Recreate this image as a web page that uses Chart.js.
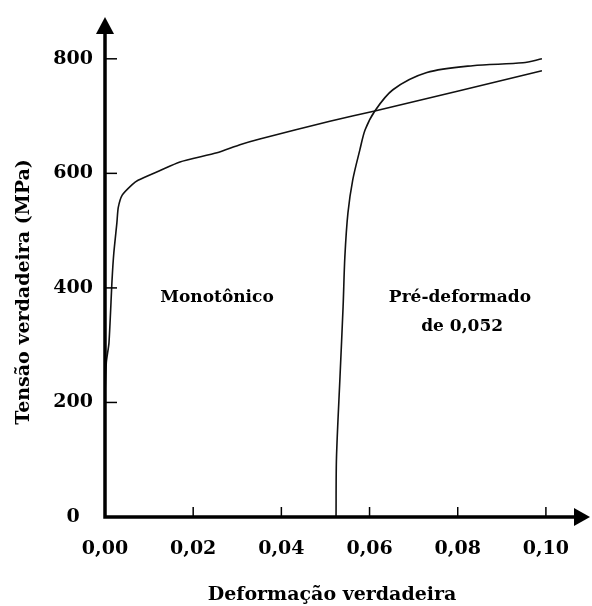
<!DOCTYPE html>
<html>
<head>
<meta charset="utf-8">
<script src="https://cdn.jsdelivr.net/npm/chart.js@4.4.1/dist/chart.umd.min.js"></script>
<style>
  html, body { margin: 0; padding: 0; background: #fff; }
  canvas { display: block; }
</style>
</head>
<body>
<canvas id="chart" width="592" height="606"></canvas>
<script>
// curve: true strain / true stress (MPa)
const monoStrain = [0.0000, 0.0003, 0.0009, 0.0016, 0.0020, 0.0027, 0.0030, 0.0039, 0.0061, 0.0075, 0.0125, 0.0170, 0.0254, 0.0306, 0.0351, 0.0510, 0.0612, 0.0991];
const monoStress = [215, 270, 304, 414, 461, 514, 540, 562, 580, 588, 605, 620, 636, 650, 660, 691, 709, 779];

const preStrain = [0.0524, 0.0525, 0.0533, 0.0540, 0.0544, 0.0551, 0.0562, 0.0578, 0.0590, 0.0612, 0.0653, 0.0730, 0.0834, 0.0948, 0.0991];
const preStress = [0, 103, 245, 367, 454, 531, 589, 641, 676, 709, 746, 776, 788, 793, 800];

const xTicks = [0, 0.02, 0.04, 0.06, 0.08, 0.10];
const yTicks = [0, 200, 400, 600, 800];

const xTitle = 'Deformação verdadeira';
const yTitle = 'Tensão verdadeira (MPa)';
const noteMono = ['Monotônico'];
const notePre = ['Pré-deformado', 'de 0,052'];

const FONT = '"DejaVu Serif", "Liberation Serif", serif';

function toPoints(xs, ys) {
  return xs.map((v, i) => ({ x: v, y: ys[i] }));
}

// axes with arrows, inward tick marks, titles and the two notes
const axesPlugin = {
  id: 'axesPlugin',
  afterDraw(chart) {
    const { ctx, chartArea: a } = chart;
    const xs = chart.scales.x, ys = chart.scales.y;
    const x0 = xs.getPixelForValue(0);
    const y0 = ys.getPixelForValue(0);
    ctx.save();
    ctx.strokeStyle = '#000';
    ctx.fillStyle = '#000';

    ctx.lineWidth = 3.5;
    ctx.beginPath();
    ctx.moveTo(x0, y0 + 1.75);
    ctx.lineTo(x0, a.top + 14);
    ctx.moveTo(x0 - 1.75, y0);
    ctx.lineTo(a.right - 12, y0);
    ctx.stroke();

    ctx.beginPath();
    ctx.moveTo(x0, a.top);
    ctx.lineTo(x0 - 9, a.top + 17);
    ctx.lineTo(x0 + 9, a.top + 17);
    ctx.closePath();
    ctx.fill();
    ctx.beginPath();
    ctx.moveTo(a.right, y0);
    ctx.lineTo(a.right - 16, y0 - 9);
    ctx.lineTo(a.right - 16, y0 + 9);
    ctx.closePath();
    ctx.fill();

    ctx.lineWidth = 1.5;
    ys.ticks.forEach(t => {
      if (!t.value) return;
      const py = ys.getPixelForValue(t.value);
      ctx.beginPath();
      ctx.moveTo(x0, py);
      ctx.lineTo(x0 + 12, py);
      ctx.stroke();
    });
    xs.ticks.forEach(t => {
      if (!t.value) return;
      const px = xs.getPixelForValue(t.value);
      ctx.beginPath();
      ctx.moveTo(px, y0);
      ctx.lineTo(px, y0 - 10);
      ctx.stroke();
    });

    ctx.textAlign = 'center';
    ctx.textBaseline = 'alphabetic';
    ctx.font = 'bold 19px ' + FONT;
    ctx.fillText(xTitle, 332, 600);

    ctx.save();
    ctx.translate(29, 292);
    ctx.rotate(-Math.PI / 2);
    ctx.fillText(yTitle, 0, 0);
    ctx.restore();

    ctx.font = 'bold 17px ' + FONT;
    ctx.textBaseline = 'middle';
    ctx.fillText(noteMono[0], xs.getPixelForValue(0.0254), ys.getPixelForValue(383));
    ctx.fillText(notePre[0], xs.getPixelForValue(0.0805), ys.getPixelForValue(383));
    ctx.fillText(notePre[1], xs.getPixelForValue(0.0810), ys.getPixelForValue(332));
    ctx.restore();
  }
};

new Chart(document.getElementById('chart'), {
  type: 'scatter',
  data: {
    datasets: [
      {
        label: 'Monotônico',
        data: toPoints(monoStrain, monoStress),
        showLine: true,
        borderColor: '#111',
        borderWidth: 1.6,
        pointRadius: 0,
        tension: 0.2
      },
      {
        label: 'Pré-deformado de 0,052',
        data: toPoints(preStrain, preStress),
        showLine: true,
        borderColor: '#111',
        borderWidth: 1.6,
        pointRadius: 0,
        tension: 0.3
      }
    ]
  },
  options: {
    responsive: false,
    animation: false,
    devicePixelRatio: 1,
    layout: { padding: { top: 17, right: 2, left: 0, bottom: 0 } },
    plugins: { legend: { display: false }, tooltip: { enabled: false } },
    scales: {
      x: {
        type: 'linear',
        min: 0,
        max: 0.11,
        afterBuildTicks: s => { s.ticks = xTicks.map(v => ({ value: v })); },
        afterFit: s => { s.height = 89; s.paddingLeft = 0; s.paddingRight = 0; },
        grid: { display: false, drawTicks: false },
        border: { display: false },
        ticks: {
          padding: 21,
          color: '#000',
          font: { family: FONT, size: 19, weight: 'bold' },
          callback: v => v.toFixed(2).replace('.', ',')
        }
      },
      y: {
        type: 'linear',
        min: 0,
        max: 873,
        afterBuildTicks: s => { s.ticks = yTicks.map(v => ({ value: v })); },
        afterFit: s => { s.width = 105; s.paddingTop = 0; s.paddingBottom = 0; },
        grid: { display: false, drawTicks: false },
        border: { display: false },
        ticks: {
          padding: 12,
          crossAlign: 'center',
          color: '#000',
          font: { family: FONT, size: 19, weight: 'bold' },
          callback: v => String(v)
        }
      }
    }
  },
  plugins: [axesPlugin]
});
</script>
</body>
</html>
